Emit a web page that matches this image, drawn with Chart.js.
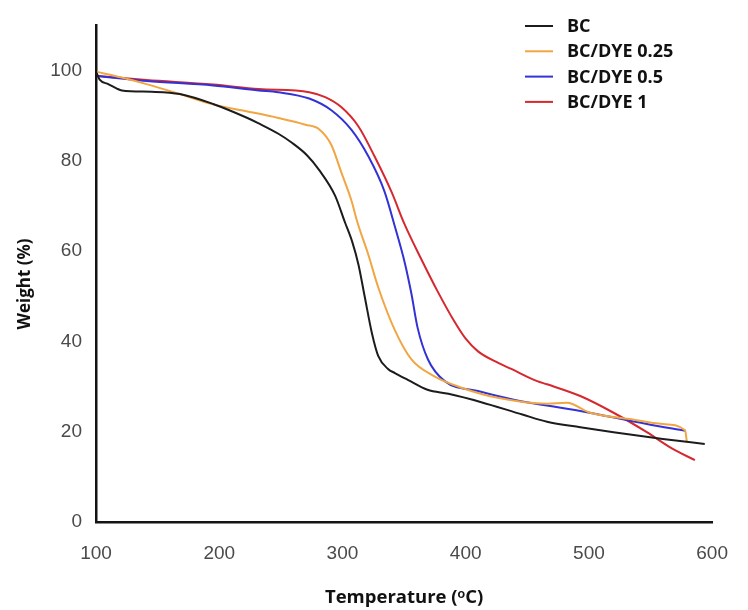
<!DOCTYPE html>
<html>
<head>
<meta charset="utf-8">
<script src="https://cdn.jsdelivr.net/npm/chart.js@4/dist/chart.umd.min.js"></script>
<style>
  html, body { margin: 0; padding: 0; background: #ffffff; }
  #wrap { width: 748px; height: 610px; position: relative; }
</style>
</head>
<body>
<div id="wrap"><canvas id="c" width="748" height="610"></canvas></div>
<script>
// ---- data ----
const seriesLabels = ['BC', 'BC/DYE 0.25', 'BC/DYE 0.5', 'BC/DYE 1'];

const bcTemp   = [100.5, 103, 110, 117, 121, 145, 168, 195, 222, 232, 248, 259, 271, 281, 294, 302, 308, 313, 318, 324, 329, 337, 342.5, 353, 369, 386, 412, 446, 466, 493, 520, 560, 594];
const bcWeight = [99.5, 98, 97, 96, 95.6, 95.3, 94.8, 92.6, 89.6, 88.3, 86, 84, 81.3, 78, 72.3, 66.4, 62, 57, 50, 41.7, 36.8, 33.9, 33, 31.5, 29.3, 28.4, 26.6, 23.8, 22.2, 21, 19.9, 18.4, 17.3];

const d025Temp   = [101, 120, 141, 168, 195, 222, 248, 270, 281, 291, 299, 307.5, 312, 321, 329, 342.5, 356, 375, 396, 426, 466, 482, 501, 533, 560, 578, 579.5];
const d025Weight = [99.7, 98.5, 97, 94.8, 92.5, 91, 89.5, 88, 87, 83.5, 77.5, 71, 66.5, 59.2, 52, 42.5, 36, 32.2, 29.8, 27.5, 26.2, 26.4, 24.2, 22.8, 21.7, 20.3, 17.7];

const d05Temp   = [101, 141, 195, 232, 248, 273, 291, 307.5, 321, 334, 343, 350.5, 356, 361, 369.4, 383, 410, 439, 493, 547, 578];
const d05Weight = [98.8, 97.7, 96.7, 95.6, 95.2, 93.8, 91.2, 86.8, 81, 73.3, 65, 57.5, 50.5, 43, 36, 31.2, 29, 27.1, 24.6, 21.7, 20.2];

const d1Temp   = [101, 141, 195, 232, 273, 286, 299, 313, 326, 340, 350, 364, 377, 390, 400, 410, 426, 437, 458, 466, 493, 520, 547, 568, 586];
const d1Weight = [98.8, 97.9, 96.9, 95.9, 95.2, 94.1, 91.9, 87.6, 81, 73, 66.2, 58.2, 51.2, 44.8, 40.6, 37.8, 35.3, 33.9, 31.2, 30.5, 27.9, 24.2, 19.9, 16.2, 13.7];

const xTicks = [100, 200, 300, 400, 500, 600];
const yTicks = [0, 20, 40, 60, 80, 100];

const seriesColors = ['#1c1c1c', '#F2A543', '#3232D6', '#D6282F'];

function pts(xs, ys) { return xs.map((x, i) => ({ x: x, y: ys[i] })); }
const seriesData = [pts(bcTemp, bcWeight), pts(d025Temp, d025Weight), pts(d05Temp, d05Weight), pts(d1Temp, d1Weight)];

// legend drawn inside the plot area, top right
const insideLegend = {
  id: 'insideLegend',
  afterDraw(chart) {
    const ctx = chart.ctx;
    ctx.save();
    ctx.font = 'bold 18px "Open Sans", sans-serif';
    ctx.textBaseline = 'middle';
    ctx.textAlign = 'left';
    chart.data.datasets.forEach((ds, i) => {
      const y = 26 + i * 25.3;
      ctx.strokeStyle = ds.borderColor;
      ctx.lineWidth = 2;
      ctx.beginPath();
      ctx.moveTo(525, y);
      ctx.lineTo(553, y);
      ctx.stroke();
      ctx.fillStyle = '#111';
      ctx.fillText(ds.label, 567, y + 1);
    });
    ctx.restore();
  }
};

// y axis title
const yTitle = {
  id: 'yTitle',
  afterDraw(chart) {
    const ctx = chart.ctx;
    ctx.save();
    ctx.translate(25, 284);
    ctx.rotate(-Math.PI / 2);
    ctx.font = 'bold 17px "Open Sans", sans-serif';
    ctx.fillStyle = '#111';
    ctx.textAlign = 'center';
    ctx.textBaseline = 'middle';
    ctx.fillText('Weight (%)', 0, 0);
    ctx.restore();
  }
};

new Chart(document.getElementById('c'), {
  type: 'line',
  data: {
    datasets: seriesLabels.map((lab, i) => ({
      label: lab,
      data: seriesData[i],
      borderColor: seriesColors[i],
      backgroundColor: seriesColors[i],
      borderWidth: 2,
      pointRadius: 0,
      cubicInterpolationMode: 'monotone',
      fill: false
    }))
  },
  options: {
    responsive: false,
    animation: false,
    events: [],
    layout: { padding: { top: 15, right: 32, left: 0, bottom: 0 } },
    plugins: { legend: { display: false }, tooltip: { enabled: false } },
    scales: {
      x: {
        type: 'linear',
        min: 100, max: 600,
        afterFit: (s) => { s.height = 88; },
        afterBuildTicks: (s) => { s.ticks = xTicks.map(v => ({ value: v })); },
        grid: { display: false, drawTicks: false },
        border: { display: true, color: '#141414', width: 2.5 },
        ticks: { padding: 20, color: '#4a4a4a', font: { family: '"Liberation Sans", Arial, sans-serif', size: 19 } },
        title: { display: true, text: 'Temperature (ᵒC)', color: '#111', padding: { top: 0, bottom: 1 },
                 font: { family: '"Open Sans", sans-serif', size: 18.5, weight: 'bold' } }
      },
      y: {
        type: 'linear',
        min: 0, max: 110,
        afterFit: (s) => { s.width = 96; },
        afterBuildTicks: (s) => { s.ticks = yTicks.map(v => ({ value: v })); },
        grid: { display: false, drawTicks: false },
        border: { display: true, color: '#141414', width: 2.5 },
        ticks: { padding: 14, color: '#4a4a4a', font: { family: '"Liberation Sans", Arial, sans-serif', size: 19 } }
      }
    }
  },
  plugins: [insideLegend, yTitle]
});
</script>
</body>
</html>
